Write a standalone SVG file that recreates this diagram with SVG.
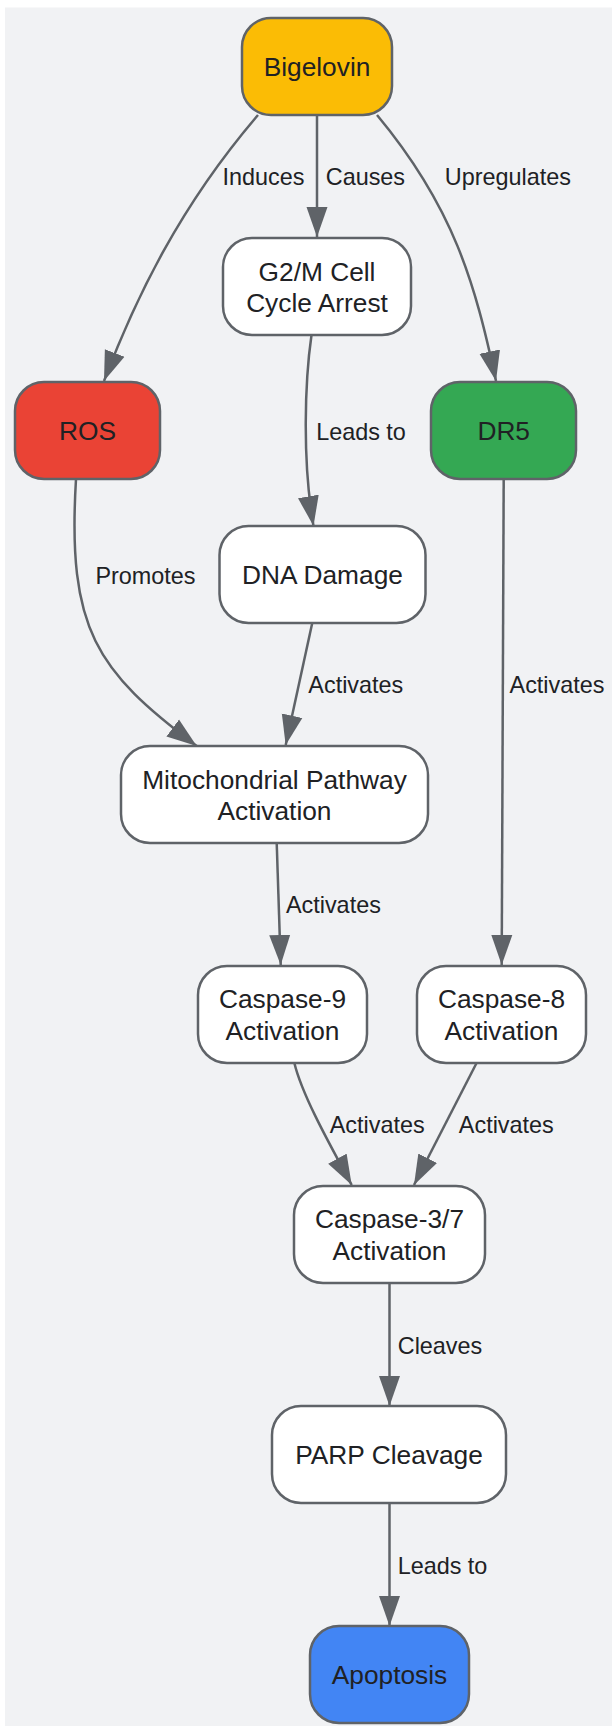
<svg xmlns="http://www.w3.org/2000/svg" width="612" height="1726" viewBox="0 0 612 1726">
<defs>
<style>
.node rect{stroke:#5f6368;stroke-width:2.5}
.node text{font-family:"Liberation Sans",Arial,sans-serif;font-size:26.3px;fill:#202124;text-anchor:middle}
.edge{fill:none;stroke:#5f6368;stroke-width:2.5;marker-end:url(#arr)}
.lbl{font-family:"Liberation Sans",Arial,sans-serif;font-size:23.4px;fill:#202124;text-anchor:middle}
.w{fill:#ffffff}
</style>
<marker id="arr" markerUnits="userSpaceOnUse" markerWidth="30" markerHeight="22" refX="30" refY="11" orient="auto" viewBox="0 0 30 22">
<path d="M0,0.5 L30,11 L0,21.5 z" fill="#5f6368"/>
</marker>
</defs>
<rect x="5" y="7.5" width="607" height="1718.5" fill="#f1f2f4"/>
<g id="connectors">
<path class="edge" d="M258,115 C180,206 136,297 104,381"/>
<path class="edge" d="M317,115 L317,237"/>
<path class="edge" d="M377,115 C453.8,207.4 475,283 496,381"/>
<path class="edge" d="M311.5,335 C305,380 302,460 313.5,526"/>
<path class="edge" d="M76,479 C67,630 96.7,671 196.7,746"/>
<path class="edge" d="M312.3,622.7 L285.7,745"/>
<path class="edge" d="M503.7,479 L501.7,965"/>
<path class="edge" d="M276.7,842.7 L280.7,965"/>
<path class="edge" d="M294.3,1062.7 C302,1095 330,1145 351.7,1185"/>
<path class="edge" d="M476.7,1062.7 L414,1185"/>
<path class="edge" d="M389.5,1283 L389.5,1406"/>
<path class="edge" d="M389.5,1503 L389.5,1626"/>
<text class="lbl" x="263.5" y="185">Induces</text>
<text class="lbl" x="365.4" y="185">Causes</text>
<text class="lbl" x="507.9" y="185">Upregulates</text>
<text class="lbl" x="361" y="440">Leads to</text>
<text class="lbl" x="145.5" y="583.5">Promotes</text>
<text class="lbl" x="355.8" y="693.3">Activates</text>
<text class="lbl" x="557" y="693.3">Activates</text>
<text class="lbl" x="333.4" y="913.3">Activates</text>
<text class="lbl" x="377.2" y="1133.3">Activates</text>
<text class="lbl" x="506.3" y="1133.3">Activates</text>
<text class="lbl" x="440" y="1354">Cleaves</text>
<text class="lbl" x="442.5" y="1574">Leads to</text>
</g>
<g id="bigelovin" class="node"><rect x="242" y="18" width="150" height="97" rx="29" fill="#fbbc05"/><text x="317" y="76">Bigelovin</text></g>
<g id="g2m" class="node"><rect x="223" y="238" width="188" height="97" rx="29" class="w"/><text x="317" y="280.5">G2/M Cell</text><text x="317" y="312">Cycle Arrest</text></g>
<g id="ros" class="node"><rect x="15" y="382" width="145" height="97" rx="29" fill="#ea4335"/><text x="87.5" y="440">ROS</text></g>
<g id="dr5" class="node"><rect x="431" y="382" width="145" height="97" rx="29" fill="#34a853"/><text x="503.7" y="440">DR5</text></g>
<g id="dna" class="node"><rect x="219.5" y="526" width="206" height="97" rx="29" class="w"/><text x="322.5" y="584">DNA Damage</text></g>
<g id="mito" class="node"><rect x="121" y="746" width="307" height="97" rx="29" class="w"/><text x="274.5" y="788.5">Mitochondrial Pathway</text><text x="274.5" y="820">Activation</text></g>
<g id="casp9" class="node"><rect x="198" y="966" width="169" height="97" rx="29" class="w"/><text x="282.5" y="1007.5">Caspase-9</text><text x="282.5" y="1039.5">Activation</text></g>
<g id="casp8" class="node"><rect x="417" y="966" width="169" height="97" rx="29" class="w"/><text x="501.5" y="1007.5">Caspase-8</text><text x="501.5" y="1039.5">Activation</text></g>
<g id="casp37" class="node"><rect x="294" y="1186" width="191" height="97" rx="29" class="w"/><text x="389.5" y="1228">Caspase-3/7</text><text x="389.5" y="1260">Activation</text></g>
<g id="parp" class="node"><rect x="272" y="1406" width="234" height="97" rx="29" class="w"/><text x="389" y="1464">PARP Cleavage</text></g>
<g id="apoptosis" class="node"><rect x="310" y="1626" width="159" height="97" rx="29" fill="#4285f4"/><text x="389.5" y="1684">Apoptosis</text></g>
</svg>
